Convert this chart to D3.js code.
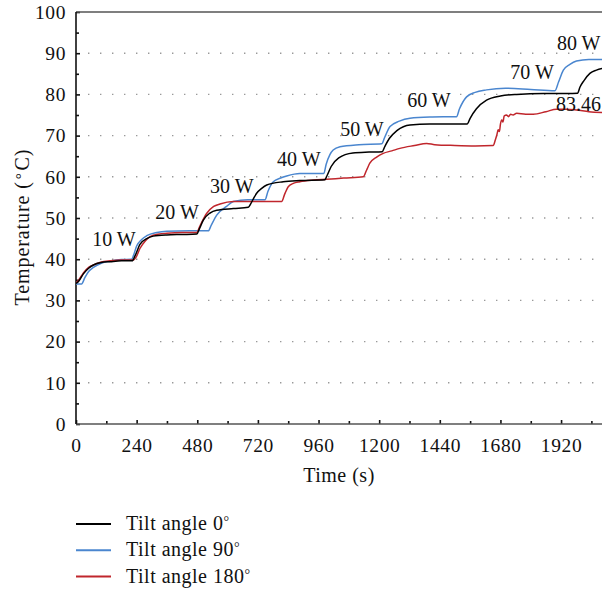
<!doctype html>
<html lang="en">
<head>
    <meta charset="UTF-8">
    <title>Temperature vs time at different tilt angles</title>
    <style>
        body { margin: 0; background: #fff; }
        svg { display: block; }
        text { font-family: "Liberation Serif", "Times New Roman", serif; fill: #111; font-size: 20px; }
        .axis text { font-size: 19.5px; letter-spacing: 0.6px; fill: #111; }
        .axis path { display: none; }
        .axis line { stroke: #111; stroke-width: 1.6; }
        .grid line { stroke: #999; stroke-width: 1.4; stroke-dasharray: 1.4,10.6; }
        .series { fill: none; stroke-width: 1.5; stroke-linejoin: round; }
    </style>
</head>
<body>
<svg class="chart"></svg>

<script src="https://d3js.org/d3.v7.min.js"></script>
<script>
    // data: [time (s), temperature (°C)]
    var tilt0 = [[0,34.1],[10,34.6],[30,36.5],[50,37.8],[69,38.6],[100,39.2],[135,39.4],[180,39.6],[222,39.6],
        [235,41.0],[253,43.6],[280,45.0],[306,45.6],[359,45.9],[420,46.0],[478,46.1],[490,47.6],[504,49.5],
        [530,51.2],[557,51.9],[623,52.3],[682,52.6],[692,53.5],[705,55.0],[715,56.0],[735,57.2],[755,58.0],
        [820,58.8],[886,59.1],[985,59.3],[993,60.2],[1010,62.5],[1040,64.6],[1096,65.8],[1160,66.0],[1212,66.1],
        [1222,67.3],[1240,69.3],[1270,71.2],[1322,72.6],[1400,72.8],[1548,72.8],[1560,74.2],[1585,76.5],
        [1625,78.6],[1680,79.6],[1744,80.0],[1850,80.2],[1945,80.2],[1985,80.3],[1995,81.8],[2010,83.3],
        [2034,85.1],[2060,85.9],[2085,86.3]];
    var tilt90 = [[0,34.0],[22,34.0],[35,35.5],[50,37.0],[69,38.0],[100,39.0],[135,39.5],[180,39.9],[220,40.0],
        [228,41.0],[240,43.2],[260,44.8],[280,45.7],[320,46.5],[359,46.8],[450,46.9],[524,46.9],[535,48.2],
        [557,50.7],[596,52.8],[623,54.0],[680,54.4],[748,54.4],[760,56.5],[781,58.8],[810,59.7],[834,60.2],
        [886,60.8],[981,60.8],[990,63.0],[1005,65.4],[1018,66.5],[1045,67.3],[1120,67.8],[1210,68.0],
        [1222,69.6],[1243,72.2],[1280,73.5],[1322,74.2],[1400,74.5],[1506,74.6],[1518,76.5],[1546,79.4],
        [1580,80.5],[1625,81.1],[1700,81.5],[1800,81.2],[1896,80.9],[1910,83.0],[1929,85.9],[1955,87.3],
        [1981,88.1],[2030,88.5],[2085,88.5]];
    var tilt180 = [[0,34.3],[10,34.9],[30,36.7],[50,38.0],[69,38.6],[100,39.3],[135,39.6],[180,39.8],[227,39.8],
        [238,40.5],[253,42.6],[275,44.5],[293,45.5],[330,46.1],[359,46.3],[420,46.5],[478,46.5],[490,48.0],
        [517,51.1],[545,52.8],[570,53.4],[623,54.0],[700,54.0],[814,54.0],[826,55.8],[840,57.6],[860,58.4],
        [886,58.8],[940,59.2],[992,59.4],[1060,59.7],[1137,60.0],[1150,61.6],[1163,63.3],[1190,64.8],
        [1216,65.7],[1250,66.3],[1282,66.9],[1340,67.6],[1388,68.1],[1420,67.8],[1500,67.6],[1580,67.5],
        [1651,67.6],[1660,69.0],[1666,70.2],[1671,71.4],[1676,71.0],[1680,72.8],[1685,73.8],[1690,73.3],
        [1695,74.8],[1704,75.0],[1712,74.6],[1720,75.2],[1730,75.0],[1744,75.4],[1780,75.2],[1810,75.2],
        [1860,75.8],[1902,76.4],[1940,76.4],[1981,76.2],[2030,75.8],[2085,75.6]];

    var seriesNames = ["Tilt angle 0", "Tilt angle 90", "Tilt angle 180"];
    var seriesColors = ["#000000", "#4a86cf", "#c0262c"];

    var xTicks = [0, 240, 480, 720, 960, 1200, 1440, 1680, 1920];
    var xMinorTicks = [120, 360, 600, 840, 1080, 1320, 1560, 1800, 2040];
    var yTicks = [0, 10, 20, 30, 40, 50, 60, 70, 80, 90, 100];
    var yMinorTicks = [5, 15, 25, 35, 45, 55, 65, 75, 85, 95];

    // power labels: text, time, temperature (where it sits)
    var powerText = ["10 W", "20 W", "30 W", "40 W", "50 W", "60 W", "70 W", "80 W"];
    var powerTime = [150, 400, 617, 882, 1132, 1397, 1805, 1990];
    var powerTemp = [43.2, 49.8, 56.1, 62.6, 69.9, 76.9, 83.7, 90.8];
    var peakText = "83.46", peakTime = 1900, peakTemp = 76.0;

    var totalWidth = 602, totalHeight = 596;
    var margin = {top: 12, right: 0, bottom: 172, left: 76};
    var width = totalWidth - margin.left - margin.right;
    var height = totalHeight - margin.top - margin.bottom;

    var x = d3.scaleLinear().domain([0, 2082]).range([0, width]);
    var y = d3.scaleLinear().domain([0, 100]).range([height, 0]);

    var svg = d3.select(".chart").attr("width", totalWidth).attr("height", totalHeight);
    var g = svg.append("g").attr("transform", "translate(" + margin.left + "," + margin.top + ")");

    // dotted grid
    g.append("g").attr("class", "grid")
        .selectAll("line").data(yTicks.filter(function(d){ return d > 0 && d < 100; })).enter()
        .append("line")
        .attr("x1", 12).attr("x2", width)
        .attr("y1", function(d){ return y(d); }).attr("y2", function(d){ return y(d); });

    // clip so lines stop at the right edge
    svg.append("defs").append("clipPath").attr("id", "plot")
        .append("rect").attr("width", width).attr("height", height);

    // x-axis (ticks point inward)
    g.append("g").attr("class", "x axis")
        .attr("transform", "translate(0," + height + ")")
        .call(d3.axisBottom(x).tickValues(xTicks).tickSize(-4).tickPadding(14).tickFormat(d3.format("d")));
    g.append("g").attr("class", "x axis")
        .attr("transform", "translate(0," + height + ")")
        .call(d3.axisBottom(x).tickValues(xMinorTicks).tickSize(-3).tickFormat(""));

    // y-axis
    g.append("g").attr("class", "y axis")
        .call(d3.axisLeft(y).tickValues(yTicks).tickSize(-4).tickPadding(10));
    g.append("g").attr("class", "y axis")
        .call(d3.axisLeft(y).tickValues(yMinorTicks).tickSize(-3).tickFormat(""));

    // frame lines
    g.append("line").attr("x1", 0).attr("x2", width).attr("y1", 0).attr("y2", 0)
        .attr("stroke", "#555").attr("stroke-width", 1.6);
    g.append("line").attr("x1", 0).attr("x2", width).attr("y1", height).attr("y2", height)
        .attr("stroke", "#555").attr("stroke-width", 1.6);
    g.append("line").attr("x1", 0).attr("x2", 0).attr("y1", 0).attr("y2", height)
        .attr("stroke", "#111").attr("stroke-width", 1.6);

    // series
    var line = d3.line()
        .x(function(d){ return x(d[0]); })
        .y(function(d){ return y(d[1]); })
        .curve(d3.curveMonotoneX);

    var allSeries = [tilt0, tilt90, tilt180];
    var drawOrder = [1, 2, 0];
    drawOrder.forEach(function(i) {
        g.append("path").attr("class", "series")
            .attr("clip-path", "url(#plot)")
            .attr("stroke", seriesColors[i])
            .attr("d", line(allSeries[i]));
    });

    // power labels
    g.selectAll(".power").data(powerText).enter()
        .append("text").attr("class", "power")
        .attr("x", function(d, i){ return x(powerTime[i]); })
        .attr("y", function(d, i){ return y(powerTemp[i]); })
        .attr("text-anchor", "middle")
        .text(function(d){ return d; });

    g.append("text")
        .attr("x", x(peakTime)).attr("y", y(peakTemp))
        .text(peakText);

    // axis titles
    g.append("text")
        .attr("x", width / 2).attr("y", height + 58)
        .attr("text-anchor", "middle")
        .style("letter-spacing", "0.5px")
        .text("Time (s)");

    var yTitle = g.append("text")
        .attr("transform", "translate(" + -47 + "," + (height / 2 + 9) + ") rotate(-90)")
        .attr("text-anchor", "middle")
        .style("letter-spacing", "0.9px");
    yTitle.append("tspan").text("Temperature (");
    yTitle.append("tspan").attr("dy", -3).attr("dx", 2).style("font-size", "15px").text("°");
    yTitle.append("tspan").attr("dy", 3).attr("dx", 2).text("C)");

    // legend
    var legend = svg.append("g").attr("transform", "translate(76,524)");
    var item = legend.selectAll(".item").data(seriesNames).enter()
        .append("g").attr("class", "item")
        .attr("transform", function(d, i){ return "translate(0," + i * 26.3 + ")"; });
    item.append("line")
        .attr("x1", 0).attr("x2", 35)
        .attr("stroke", function(d, i){ return seriesColors[i]; })
        .attr("stroke-width", 2);
    var label = item.append("text")
        .attr("x", 50).attr("y", 6)
        .style("letter-spacing", "0.5px");
    label.append("tspan").text(function(d){ return d; });
    label.append("tspan").attr("dy", -4).style("font-size", "14px").text("°");
</script>
</body>
</html>
